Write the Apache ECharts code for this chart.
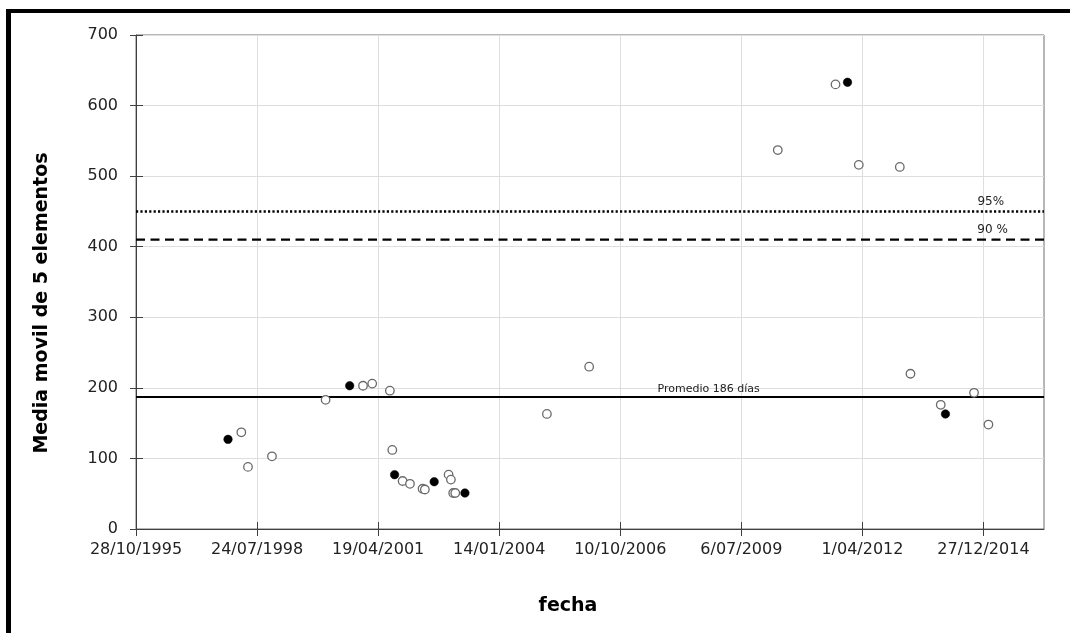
<!DOCTYPE html>
<html>
<head>
<meta charset="utf-8">
<script src="https://cdn.jsdelivr.net/npm/echarts@6/dist/echarts.min.js"></script>
<style>
  html, body { margin: 0; padding: 0; background: #ffffff; }
  #chart { width: 1070px; height: 633px; }
</style>
</head>
<body>
<div id="chart"></div>
<script>
// Dates are Excel serial day numbers (1 = 1/01/1900); 35000 = 28/10/1995
const xMin = 35000;
const xMax = 42500;
const xInterval = 1000;
const xTicks = [35000, 36000, 37000, 38000, 39000, 40000, 41000, 42000];
const yTicks = [0, 100, 200, 300, 400, 500, 600, 700];

// Open circles (fecha serial, media móvil)
const openX = [35870, 35925, 36123, 36566, 36875, 36951, 37097, 37117, 37202, 37263, 37367, 37386,
               37582, 37601, 37620, 37637, 38394, 38743, 40301, 40778, 40970, 41309, 41397, 41647,
               41922, 42041];
const openY = [137, 88, 103, 183, 203, 206, 196, 112, 68, 64, 57, 56,
               77, 70, 51, 51, 163, 230, 537, 630, 516, 513, 220, 176,
               193, 148];

// Filled circles
const filledX = [35760, 36765, 37136, 37463, 37717, 40877, 41686];
const filledY = [127, 203, 77, 67, 51, 633, 163];

// Reference lines
const lineNames = ['95%', '90 %', 'Promedio 186 días'];
const lineValues = [450, 410, 187];
const lineTypes = ['dotted', 'dashed', 'solid'];

const yTitle = 'Media movil de 5 elementos';
const xTitle = 'fecha';

function serialToLabel(s) {
  const d = new Date(Date.UTC(1899, 11, 30) + Math.round(s) * 86400000);
  const day = d.getUTCDate();
  const mon = String(d.getUTCMonth() + 1).padStart(2, '0');
  return day + '/' + mon + '/' + d.getUTCFullYear();
}

const FONT = 'DejaVu Sans';
const chart = echarts.init(document.getElementById('chart'), null, { renderer: 'canvas' });

const lineStyleFor = {
  dotted: { type: [2.2, 2.2], width: 2.6, cap: 'butt' },
  dashed: { type: [9, 5.5], width: 2.4 },
  solid: { type: 'solid', width: 2 }
};

const refSeries = lineValues.map((v, i) => ({
  type: 'line',
  name: lineNames[i],
  data: [[xMin, v], [xMax, v]],
  symbol: 'none',
  silent: true,
  lineStyle: Object.assign({ color: '#000' }, lineStyleFor[lineTypes[i]]),
  z: 3
}));

const option = {
  animation: false,
  backgroundColor: '#ffffff',
  grid: {
    left: 136, top: 35, right: 26, bottom: 104,
    show: true, borderColor: '#6f6f6f', borderWidth: 1, backgroundColor: 'transparent'
  },
  xAxis: [{
    type: 'value', min: xMin, max: xMax, interval: xInterval,
    axisLine: { show: true, onZero: false, lineStyle: { color: '#404040', width: 1 } },
    axisTick: { show: true, length: 7, customValues: xTicks, lineStyle: { color: '#404040' } },
    axisLabel: {
      fontFamily: FONT, fontSize: 16, color: '#222', margin: 13,
      customValues: xTicks,
      formatter: v => serialToLabel(v)
    },
    splitLine: { show: true, lineStyle: { color: '#dedede', width: 1 } }
  }, {
    type: 'value', min: xMin, max: xMax, interval: xInterval, position: 'bottom',
    axisLine: { show: false },
    axisTick: { show: true, inside: true, length: 7, customValues: xTicks, lineStyle: { color: '#404040' } },
    axisLabel: { show: false }, splitLine: { show: false }
  }],
  yAxis: [{
    type: 'value', min: 0, max: 700, interval: 100,
    axisLine: { show: true, lineStyle: { color: '#404040', width: 1 } },
    axisTick: { show: true, length: 6, lineStyle: { color: '#404040' } },
    axisLabel: {
      fontFamily: FONT, fontSize: 16, color: '#222', margin: 18,
      formatter: v => (yTicks.indexOf(v) >= 0 ? String(v) : '')
    },
    splitLine: { show: true, lineStyle: { color: '#dedede', width: 1 } }
  }, {
    type: 'value', min: 0, max: 700, interval: 100, position: 'left',
    axisLine: { show: false },
    axisTick: { show: true, inside: true, length: 7, lineStyle: { color: '#404040' } },
    axisLabel: { show: false }, splitLine: { show: false }
  }],
  series: refSeries.concat([
    {
      type: 'scatter', name: 'abiertos',
      data: openX.map((x, i) => [x, openY[i]]),
      symbol: 'circle', symbolSize: 8.5,
      itemStyle: { color: '#ffffff', borderColor: '#6a6a6a', borderWidth: 1.3, opacity: 1 },
      z: 4
    },
    {
      type: 'scatter', name: 'llenos',
      data: filledX.map((x, i) => [x, filledY[i]]),
      symbol: 'circle', symbolSize: 8.5,
      itemStyle: { color: '#000000', borderColor: '#000000', borderWidth: 0.5, opacity: 1 },
      z: 5
    }
  ])
};

chart.setOption(option);

// Labels of the reference lines, positioned relative to their lines
const labelAnchors = [
  { x: 42060, dy: -10, size: 12 },
  { x: 42075, dy: -10, size: 12 },
  { x: 39730, dy: -8, size: 11 }
];
const texts = lineValues.map((v, i) => {
  const p = chart.convertToPixel({ xAxisIndex: 0, yAxisIndex: 0 }, [labelAnchors[i].x, v]);
  return {
    type: 'text', x: p[0], y: p[1] + labelAnchors[i].dy, z: 10,
    style: {
      text: lineNames[i], fill: '#222', font: labelAnchors[i].size + 'px "' + FONT + '"',
      align: 'center', verticalAlign: 'middle'
    }
  };
});

chart.setOption({
  graphic: texts.concat([
    {
      type: 'text', x: 42, y: 303, rotation: Math.PI / 2, z: 10,
      style: { text: yTitle, fill: '#000', font: 'bold 19px "' + FONT + '"', align: 'center', verticalAlign: 'middle' }
    },
    {
      type: 'text', x: 568, y: 606, z: 10,
      style: { text: xTitle, fill: '#000', font: 'bold 19px "' + FONT + '"', align: 'center', verticalAlign: 'middle' }
    },
    { type: 'rect', shape: { x: 6, y: 9, width: 5, height: 624 }, style: { fill: '#000' }, z: 20 },
    { type: 'rect', shape: { x: 6, y: 9, width: 1064, height: 4 }, style: { fill: '#000' }, z: 20 }
  ])
});
</script>
</body>
</html>
